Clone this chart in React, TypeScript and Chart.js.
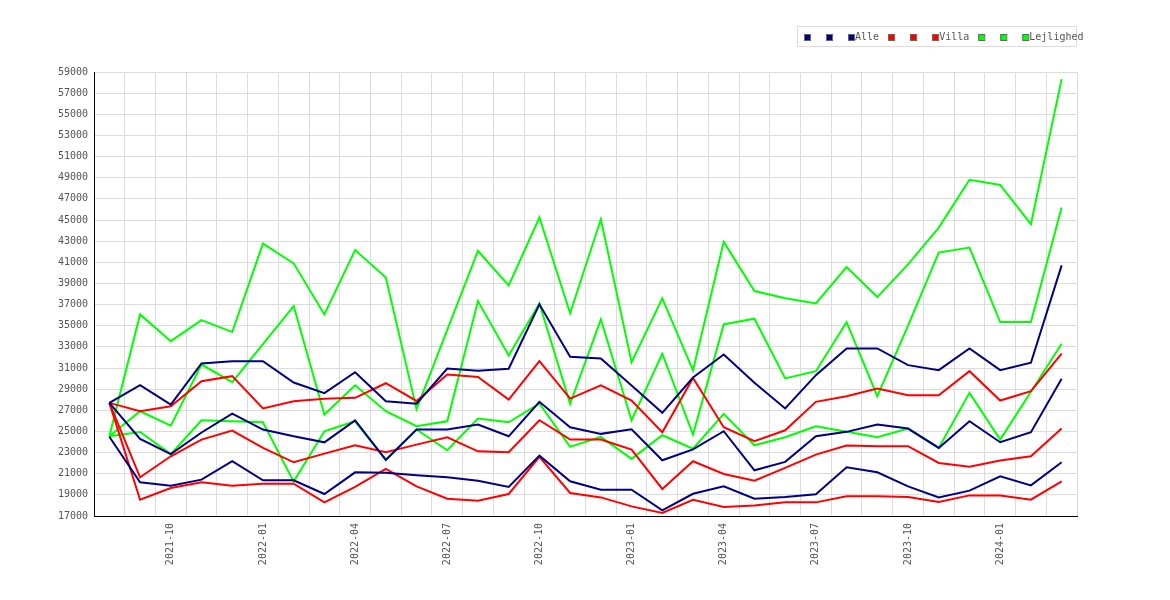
import { useEffect, useRef } from "react";
import { Chart, registerables } from "chart.js";

Chart.register(...registerables);

const months = [
  "2021-08", "2021-09", "2021-10", "2021-11", "2021-12", "2022-01", "2022-02", "2022-03",
  "2022-04", "2022-05", "2022-06", "2022-07", "2022-08", "2022-09", "2022-10", "2022-11",
  "2022-12", "2023-01", "2023-02", "2023-03", "2023-04", "2023-05", "2023-06", "2023-07",
  "2023-08", "2023-09", "2023-10", "2023-11", "2023-12", "2024-01", "2024-02", "2024-03",
];

const alleHigh = [27700, 29370, 27540, 31430, 31650, 31650, 29630, 28620, 30600, 27860, 27630, 30950, 30730, 30930, 37020, 32060, 31900, 29340, 26760, 30100, 32280, 29600, 27170, 30320, 32850, 32850, 31270, 30800, 32850, 30800, 31500, 40710];
const alleMid = [27700, 24300, 22850, 24900, 26690, 25180, 24540, 23970, 26040, 22300, 25180, 25180, 25650, 24540, 27800, 25400, 24770, 25210, 22270, 23300, 25020, 21320, 22120, 24540, 24960, 25650, 25270, 23440, 25960, 23980, 24920, 29980];
const alleLow = [24500, 20190, 19870, 20440, 22180, 20380, 20380, 19080, 21130, 21100, 20850, 20660, 20340, 19750, 22710, 20280, 19490, 19490, 17530, 19100, 19800, 18640, 18800, 19050, 21600, 21130, 19800, 18760, 19400, 20750, 19900, 22080];

const villaHigh = [27700, 26910, 27380, 29750, 30230, 27170, 27860, 28080, 28180, 29560, 27880, 30390, 30150, 28020, 31650, 28110, 29370, 27920, 24920, 30050, 25400, 24070, 25110, 27800, 28330, 29060, 28430, 28430, 30700, 27920, 28810, 32350];
const villaMid = [27700, 20660, 22650, 24230, 25080, 23440, 22080, 22900, 23680, 23030, 23750, 24450, 23120, 23030, 26060, 24230, 24230, 23280, 19560, 22180, 20980, 20340, 21550, 22810, 23660, 23600, 23600, 22020, 21650, 22240, 22650, 25270];
const villaLow = [27700, 18540, 19650, 20190, 19870, 20060, 20060, 18290, 19750, 21450, 19800, 18640, 18450, 19080, 22590, 19180, 18760, 17910, 17280, 18540, 17850, 18000, 18290, 18290, 18860, 18860, 18800, 18330, 18950, 18950, 18540, 20280];

const lejHigh = [24540, 36070, 33540, 35530, 34400, 42770, 40900, 36070, 42160, 39550, 27100, 34600, 42070, 38820, 45230, 36170, 45070, 31550, 37590, 30780, 42930, 38280, 37590, 37110, 40550, 37710, 40800, 44280, 48800, 48320, 44600, 58330];
const lejMid = [24540, 26910, 25550, 31330, 29660, 33260, 36860, 26600, 29370, 26910, 25490, 25960, 37330, 32190, 37110, 27610, 35600, 26060, 32350, 24700, 35120, 35660, 30010, 30700, 35340, 28330, 35000, 41920, 42390, 35340, 35340, 46180];
const lejLow = [24540, 24950, 22850, 26060, 25960, 25870, 20250, 25020, 25960, 22330, 25180, 23220, 26220, 25870, 27640, 23540, 24480, 22400, 24640, 23360, 26660, 23690, 24450, 25490, 24960, 24450, 25270, 23440, 28650, 24230, 28750, 33300];

const seriesLabels = ["", "", "Alle", "", "", "Villa", "", "", "Lejlighed"];
const seriesColors = ["#000080", "#000080", "#000080", "#ff0000", "#ff0000", "#ff0000", "#00ff00", "#00ff00", "#00ff00"];
const seriesData = [alleHigh, alleMid, alleLow, villaHigh, villaMid, villaLow, lejHigh, lejMid, lejLow];

const Y_MIN = 17000;
const Y_MAX = 59000;
const Y_STEP = 2000;

const FONT = "'DejaVu Sans Mono', 'Liberation Mono', monospace";
const TEXT = "#555555";

const boxLegend = {
  id: "boxLegend",
  afterDraw(chart: any) {
    const ctx = chart.ctx as CanvasRenderingContext2D;
    const right = chart.chartArea.right;
    ctx.save();
    ctx.strokeStyle = "#dddddd";
    ctx.lineWidth = 1;
    ctx.strokeRect(Math.round(right - 280) + 0.5, 26.5, 279, 20);
    ctx.font = "10px " + FONT;
    ctx.textBaseline = "middle";
    ctx.textAlign = "left";
    let x = Math.round(right - 273);
    const y = 37;
    chart.data.datasets.forEach((ds: any) => {
      ctx.fillStyle = ds.borderColor;
      ctx.fillRect(x, y - 3, 6, 6);
      ctx.strokeStyle = "#666666";
      ctx.strokeRect(x + 0.5, y - 2.5, 6, 6);
      const label = ds.label && ds.label.length ? ds.label : " ";
      ctx.fillStyle = TEXT;
      ctx.fillText(label, x + 7, y);
      x += 7 + ctx.measureText(label).width + 9;
    });
    ctx.restore();
  },
};

export default function App() {
  const ref = useRef<HTMLCanvasElement | null>(null);

  useEffect(() => {
    document.body.style.margin = "0";
    const canvas = ref.current;
    if (!canvas) return;
    const chart = new Chart(canvas, {
      type: "line",
      data: {
        labels: months,
        datasets: seriesData.map((d, i) => ({
          label: seriesLabels[i],
          data: d,
          borderColor: seriesColors[i],
          backgroundColor: seriesColors[i],
          borderWidth: 2,
          pointRadius: 0,
          tension: 0,
          fill: false,
        })),
      },
      options: {
        responsive: false,
        animation: false,
        devicePixelRatio: 1,
        layout: { padding: { left: 0, right: 93, top: 72, bottom: 0 } },
        plugins: {
          legend: { display: false },
          tooltip: { enabled: false },
        },
        scales: {
          x: {
            type: "category",
            offset: true,
            grid: { offset: true, color: "#dcdcdc", lineWidth: 1, drawTicks: false },
            border: { display: true, color: "#000000", width: 1 },
            ticks: {
              autoSkip: false,
              maxRotation: 90,
              minRotation: 90,
              padding: 7,
              color: TEXT,
              font: { family: FONT, size: 10 },
              callback: (_v: any, i: number) => (i % 3 === 2 ? months[i] : ""),
            },
            afterFit: (s: any) => {
              s.height = 84;
            },
          },
          y: {
            min: Y_MIN,
            max: Y_MAX,
            grid: { color: "#dcdcdc", lineWidth: 1, drawTicks: false },
            border: { display: true, color: "#000000", width: 1 },
            ticks: {
              stepSize: Y_STEP,
              padding: 6,
              color: TEXT,
              font: { family: FONT, size: 10 },
              callback: (v: any) => String(v),
            },
            afterFit: (s: any) => {
              s.width = 94;
            },
          },
        },
      },
      plugins: [boxLegend],
    });
    return () => chart.destroy();
  }, []);

  return (
    <div style={{ width: 1170, height: 600, background: "#ffffff" }}>
      <canvas ref={ref} width={1170} height={600} style={{ display: "block", width: 1170, height: 600 }} />
    </div>
  );
}
